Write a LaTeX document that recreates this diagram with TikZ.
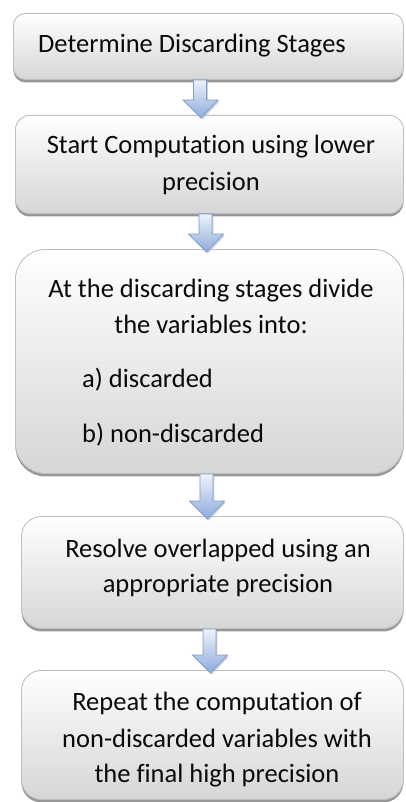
\documentclass[tikz,border=0pt]{standalone}
\usepackage{fontspec}
\setmainfont[Ligatures=NoCommon]{Carlito}
\usetikzlibrary{calc,shadows}
\definecolor{boxline}{HTML}{BFBFBF}
\definecolor{boxbot}{HTML}{D6D6D6}
\definecolor{arrline}{HTML}{7F9FD3}
\definecolor{arrtop}{HTML}{EEF3FA}
\definecolor{arrbot}{HTML}{8EAADB}
\definecolor{txtcol}{HTML}{0A0A0A}
\newcommand\blockarrow[4]{% from, to, x-center offset, head start above tip
  \path[blockarr] let \p1=($(#1.south)+(#3,0)$), \p2=($(#2.north)+(#3,0)$) in
    (\x1-6.5pt,\y1) -- (\x1+6.5pt,\y1) -- (\x1+6.5pt,\y2+#4) -- (\x1+18pt,\y2+#4)
    -- (\x1+1pt,\y2-3pt) -- (\x1-17pt,\y2+#4) -- (\x1-6.5pt,\y2+#4) -- cycle;}
\begin{document}
\begin{tikzpicture}[x=1pt,y=-1pt,
  box/.style={draw=boxline, line width=0.9pt, top color=white, bottom color=boxbot,
    drop shadow={shadow xshift=0pt, shadow yshift=-3pt, fill=black!45, opacity=0.9},
    anchor=north west, inner sep=0pt},
  txt/.style={font=\fontsize{26.5}{36}\selectfont, text=txtcol, inner sep=0pt},
  blockarr/.style={draw=arrline, line width=0.8pt, top color=arrtop, bottom color=arrbot,
    drop shadow={shadow xshift=1.5pt, shadow yshift=-1.5pt, fill=black!30, opacity=0.6}}]
\useasboundingbox (0,0) rectangle (406,802);
\clip (0,0) rectangle (406,802);
\fill[white] (0,0) rectangle (406,802);
% boxes
\node[box, rounded corners=12pt, minimum width=390pt, minimum height=66pt] (b1) at (13,13) {};
\node[box, rounded corners=14pt, minimum width=388pt, minimum height=98pt] (b2) at (15,115) {};
\node[box, rounded corners=30pt, minimum width=388pt, minimum height=224pt] (b3) at (15,249) {};
\node[box, rounded corners=20pt, minimum width=382pt, minimum height=112pt] (b4) at (21,516) {};
\node[box, rounded corners=20pt, minimum width=382pt, minimum height=129pt] (b5) at (21,670) {};
% texts
\node[txt, anchor=base] (t1) at (192,53) {Determine Discarding Stages};
\node[txt, anchor=base] (t2a) at (211,154) {Start Computation using lower};
\node[txt, anchor=base] (t2b) at (211,191) {precision};
\node[txt, anchor=base] (t3a) at (211,297) {At the discarding stages divide};
\node[txt, anchor=base] (t3b) at (211,333) {the variables into:};
\node[txt, anchor=base west] (t3c) at (82,387) {a) discarded};
\node[txt, anchor=base west] (t3d) at (82,442) {b) non-discarded};
\node[txt, anchor=base] (t4a) at (218,557) {Resolve overlapped using an};
\node[txt, anchor=base] (t4b) at (218,592) {appropriate precision};
\node[txt, anchor=base] (t5a) at (217,710) {Repeat the computation of};
\node[txt, anchor=base] (t5b) at (217,747) {non-discarded variables with};
\node[txt, anchor=base] (t5c) at (217,782) {the final high precision};
% arrows
\blockarrow{b1}{b2}{-8.5pt}{15pt}
\blockarrow{b2}{b3}{-4pt}{15pt}
\blockarrow{b3}{b4}{-3pt}{15pt}
\blockarrow{b4}{b5}{-3pt}{15pt}
\end{tikzpicture}
\end{document}
